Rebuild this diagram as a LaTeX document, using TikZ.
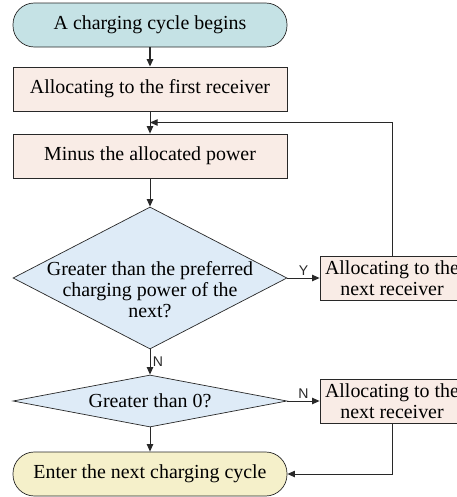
\documentclass[tikz,border=0pt]{standalone}
\usepackage{fontspec}
\setmainfont{Liberation Serif}
\newfontfamily\labelfont{Liberation Sans}
\usetikzlibrary{shapes.geometric, arrows.meta, positioning, calc}
\definecolor{cyclecyan}{RGB}{197,226,229}
\definecolor{cycleyellow}{RGB}{245,240,202}
\definecolor{stepbeige}{RGB}{249,236,230}
\definecolor{checkblue}{RGB}{222,235,247}
\definecolor{linegray}{RGB}{40,40,40}

\begin{document}
\begin{tikzpicture}[
  x=0.03cm, y=-0.03cm,
  terminal/.style={
    rectangle,
    rounded corners=0.64cm,
    draw=linegray,
    line width=0.6pt,
    minimum width=274*0.03cm,
    minimum height=44*0.03cm,
    font=\fontsize{17}{18}\selectfont
  },
  stepbox/.style={
    rectangle,
    draw=linegray,
    line width=0.6pt,
    fill=stepbeige,
    minimum width=274*0.03cm,
    minimum height=44*0.03cm,
    font=\fontsize{17}{18}\selectfont
  },
  sidebox/.style={
    stepbox,
    minimum width=144*0.03cm,
    align=center,
    inner sep=1pt
  },
  check/.style={
    diamond,
    draw=linegray,
    line width=0.6pt,
    fill=checkblue,
    inner sep=0pt,
    minimum width=274*0.03cm
  },
  checktext/.style={align=center, font=\fontsize{17}{18}\selectfont},
  arrow/.style={-{Triangle[length=6.5pt,width=5.5pt]}, linegray, line width=0.8pt},
  branch/.style={font=\labelfont\fontsize{12}{14}\selectfont, inner sep=2pt}
]
  \useasboundingbox (0,0) rectangle (457,497);

  % Main column
  \node[terminal, fill=cyclecyan] (start) at (150,25) {A charging cycle begins};
  \node[stepbox] (first) at (150,89) {Allocating to the first receiver};
  \node[stepbox] (minus) at (150,156) {Minus the allocated power};
  \node[check, minimum height=142*0.03cm,
    label={[checktext, yshift=-0.36cm]center:Greater than the preferred\\charging power of the\\next?}] (prefer) at (150,278) {};
  \node[check, minimum height=52*0.03cm,
    label={[checktext]center:Greater than 0?}] (zero) at (150,401) {};
  \node[terminal, fill=cycleyellow] (finish) at (150,474) {Enter the next charging cycle};

  % Side boxes
  \node[sidebox] (nextA) at (392,278) {Allocating to the\\next receiver};
  \node[sidebox] (nextB) at (392,401) {Allocating to the\\next receiver};

  % Flow
  \coordinate (back) at ($(first.south)!0.5!(minus.north)$);
  \draw[arrow, line width=1.4pt] (start) -- (first);
  \draw[arrow] (first) -- (minus);
  \draw[arrow] (minus) -- (prefer);
  \draw[arrow] (nextA.north) |- (back);
  \draw[arrow] (prefer.east) -- node[branch, above] {Y} (nextA.west);
  \draw[arrow] (prefer.south) -- node[branch, right] {N} (zero.north);
  \draw[arrow] (zero.east) -- node[branch, above] {N} (nextB.west);
  \draw[arrow] (zero.south) -- (finish.north);
  \draw[arrow] (nextB.south) |- (finish.east);
\end{tikzpicture}
\end{document}
